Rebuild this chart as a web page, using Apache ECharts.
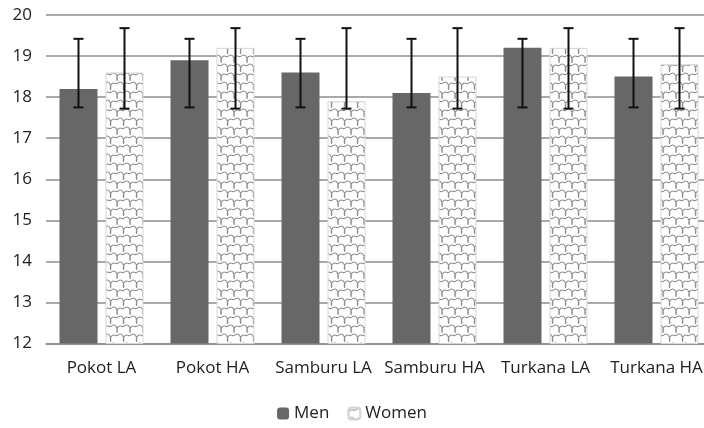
<!DOCTYPE html>
<html>
<head>
<meta charset="utf-8">
<script src="https://cdn.jsdelivr.net/npm/echarts@6/dist/echarts.min.js"></script>
<style>
  html, body { margin: 0; padding: 0; background: #fff; }
  #chart { width: 704px; height: 428px; }
</style>
</head>
<body>
<div id="chart"></div>
<script>
// Groups and mean values
const categories = ['Pokot LA', 'Pokot HA', 'Samburu LA', 'Samburu HA', 'Turkana LA', 'Turkana HA'];
const menValues   = [18.2, 18.9, 18.6, 18.1, 19.2, 18.5];
const womenValues = [18.6, 19.2, 17.9, 18.5, 19.2, 18.8];
// Error bar ranges (low, high)
const menErrLow    = [17.75, 17.75, 17.75, 17.75, 17.75, 17.75];
const menErrHigh   = [19.42, 19.42, 19.42, 19.42, 19.42, 19.42];
const womenErrLow  = [17.72, 17.72, 17.72, 17.72, 17.72, 17.72];
const womenErrHigh = [19.68, 19.68, 19.68, 19.68, 19.68, 19.68];
const yTicks = [12, 13, 14, 15, 16, 17, 18, 19, 20];

const BAR_W = 38;
const BAR_GAP_PX = 8;
const FONT = '"Open Sans", "Noto Sans", sans-serif';

// Staggered wavy-scale fill used for the women's bars
function makePattern() {
  const w = 13, h = 18;
  const c = document.createElement('canvas');
  c.width = w; c.height = h;
  const g = c.getContext('2d');
  g.fillStyle = '#ffffff';
  g.fillRect(0, 0, w, h);
  g.strokeStyle = '#8f8f8f';
  g.lineWidth = 1.1;
  function scale(x0, y0) {
    g.moveTo(x0, y0 + 8);
    g.bezierCurveTo(x0 - 1, y0 + 4, x0 + 2, y0 + 1, x0 + 5, y0 + 2.5);
    g.bezierCurveTo(x0 + 7, y0 + 3.5, x0 + 8, y0 + 0.5, x0 + 10, y0 + 1);
    g.bezierCurveTo(x0 + 12.5, y0 + 1.5, x0 + 14, y0 + 5, x0 + 13, y0 + 9);
  }
  g.beginPath();
  for (let dx = -13; dx <= 13; dx += 13) {
    for (let dy = -18; dy <= 18; dy += 18) {
      scale(dx, dy);
      scale(dx + 6.5, dy + 9);
    }
  }
  g.stroke();
  return c;
}
const patternCanvas = makePattern();

function errorSeries(name, lows, highs, offset) {
  return {
    type: 'custom',
    name: name + ' err',
    z: 10,
    silent: true,
    legendHoverLink: false,
    data: categories.map((c, i) => [i, lows[i], highs[i]]),
    encode: { x: 0, y: [1, 2] },
    renderItem: function (params, api) {
      const i = api.value(0);
      const lo = api.coord([i, api.value(1)]);
      const hi = api.coord([i, api.value(2)]);
      const x = lo[0] + offset;
      const cap = 5;
      const style = { stroke: '#111', lineWidth: 2 };
      return {
        type: 'group',
        children: [
          { type: 'line', shape: { x1: x, y1: lo[1], x2: x, y2: hi[1] }, style: style },
          { type: 'line', shape: { x1: x - cap, y1: lo[1], x2: x + cap, y2: lo[1] }, style: style },
          { type: 'line', shape: { x1: x - cap, y1: hi[1], x2: x + cap, y2: hi[1] }, style: style }
        ]
      };
    }
  };
}

const half = (BAR_W + BAR_GAP_PX) / 2;

const chart = echarts.init(document.getElementById('chart'), null, { renderer: 'canvas' });
chart.setOption({
  animation: false,
  backgroundColor: '#ffffff',
  textStyle: { fontFamily: FONT },
  // plot area runs slightly past the right edge of the canvas
  grid: { left: 46, width: 666, top: 15, bottom: 84.5, containLabel: false, outerBoundsMode: 'none' },
  legend: {
    data: ['Men', 'Women'],
    bottom: 1,
    left: 'center',
    itemWidth: 12,
    itemHeight: 12,
    itemGap: 18,
    textStyle: { fontSize: 17, color: '#222', fontFamily: FONT }
  },
  xAxis: {
    type: 'category',
    data: categories,
    axisLine: { show: true, lineStyle: { color: '#8c8c8c', width: 1.5 } },
    axisTick: { show: false },
    axisLabel: { interval: 0, fontSize: 17, color: '#222', margin: 16, fontFamily: FONT, hideOverlap: false }
  },
  yAxis: {
    type: 'value',
    min: yTicks[0],
    max: yTicks[yTicks.length - 1],
    interval: 1,
    axisLine: { show: false },
    axisTick: { show: false },
    axisLabel: { fontSize: 17, color: '#222', margin: 14, fontFamily: FONT },
    splitLine: { lineStyle: { color: '#8c8c8c', width: 1.5 } }
  },
  series: [
    {
      name: 'Men',
      type: 'bar',
      data: menValues,
      barWidth: BAR_W,
      barGap: (BAR_GAP_PX / BAR_W * 100) + '%',
      itemStyle: { color: '#676767' }
    },
    {
      name: 'Women',
      type: 'bar',
      data: womenValues,
      barWidth: BAR_W,
      itemStyle: {
        color: { image: patternCanvas, repeat: 'repeat' },
        borderColor: '#d6d6d6',
        borderWidth: 1
      }
    },
    errorSeries('Men', menErrLow, menErrHigh, -half),
    errorSeries('Women', womenErrLow, womenErrHigh, half)
  ]
});
</script>
</body>
</html>
